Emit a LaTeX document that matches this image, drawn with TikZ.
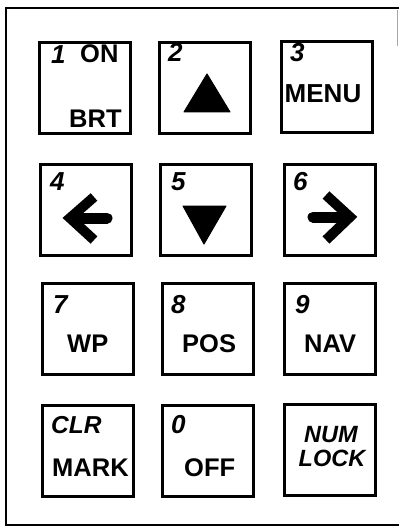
\documentclass[tikz,border=0pt]{standalone}
\usepackage{fontspec}
\setmainfont{Liberation Sans}
\begin{document}
\begin{tikzpicture}[x=1pt,y=-1pt,
  key/.style={draw,line width=3.6pt,minimum width=91pt,minimum height=91pt,inner sep=0pt},
  lbl/.style={anchor=base west,inner sep=0pt,font=\fontsize{25.5}{25.5}\selectfont\bfseries},
  lblc/.style={anchor=base,inner sep=0pt,font=\fontsize{26}{26}\selectfont\bfseries},
  num/.style={anchor=base west,inner sep=0pt,font=\fontsize{26}{26}\selectfont\bfseries\itshape},
  numw/.style={anchor=base west,inner sep=0pt,font=\fontsize{24.5}{24.5}\selectfont\bfseries\itshape},
  numlock/.style={anchor=base,inner sep=0pt,font=\fontsize{23.5}{23.5}\selectfont\bfseries\itshape},
  glyph/.style={fill=black,draw=black,line width=1pt,line join=round},
  arrowhead/.style={draw=black,line width=10pt,line join=miter},
  arrowshaft/.style={draw=black,line width=11pt,line cap=round}]
\useasboundingbox (0,0) rectangle (399,529);
% outer frame
\coordinate (tr) at (399,8);
\coordinate (tl) at (6,8);
\coordinate (bl) at (6,525);
\coordinate (br) at (399,525);
\draw[line width=2pt] (tr) -- (tl) -- (bl) -- (br);
\coordinate (rs) at (397.5,10);
\coordinate (re) at (397.5,46);
\draw[line width=1pt,black!35] (rs) -- (re);
% keys
\node[key] (k1) at (85,88) {};
\node[key] (k2) at (205,88) {};
\node[key] (k3) at (327,87) {};
\node[key] (k4) at (86,210) {};
\node[key] (k5) at (206,210) {};
\node[key] (k6) at (330,210) {};
\node[key] (k7) at (88,329) {};
\node[key] (k8) at (208,329) {};
\node[key] (k9) at (330,329) {};
\node[key] (kc) at (88,451) {};
\node[key] (k0) at (208,451) {};
\node[key] (kn) at (330,450) {};
% row 1
\node[num] (t1) at (51,64) {1};
\node[lbl] (ton) at (80,63) {ON};
\node[lbl] (tbrt) at (69,128) {BRT};
\node[num] (t2) at (168,62) {2};
\coordinate (u1) at (207,74);
\coordinate (u2) at (184,112);
\coordinate (u3) at (230,112);
\fill[glyph] (u1) -- (u2) -- (u3) -- cycle;
\node[num] (t3) at (290,62) {3};
\node[lblc] (tmenu) at (323,103) {MENU};
% row 2
\node[num] (t4) at (50,191) {4};
\coordinate (la) at (94,197);
\coordinate (lv) at (70,218);
\coordinate (lb) at (94,240);
\coordinate (ls) at (76,218);
\coordinate (le) at (107,218);
\draw[arrowshaft] (ls) -- (le);
\draw[arrowhead] (la) -- (lv) -- (lb);
\node[num] (t5) at (171,190) {5};
\coordinate (d1) at (183,206);
\coordinate (d2) at (226,206);
\coordinate (d3) at (204,244);
\fill[glyph] (d1) -- (d2) -- (d3) -- cycle;
\node[num] (t6) at (293,190) {6};
\coordinate (ra) at (326,195);
\coordinate (rv) at (350,217);
\coordinate (rb) at (326,240);
\coordinate (rsh) at (313,217);
\coordinate (reh) at (344,217);
\draw[arrowshaft] (rsh) -- (reh);
\draw[arrowhead] (ra) -- (rv) -- (rb);
% row 3
\node[num] (t7) at (53,313) {7};
\node[lbl] (twp) at (67,352) {WP};
\node[num] (t8) at (171,313) {8};
\node[lbl] (tpos) at (182,352) {POS};
\node[num] (t9) at (295,313) {9};
\node[lbl] (tnav) at (304,352) {NAV};
% row 4
\node[numw] (tclr) at (51,433) {CLR};
\node[lbl] (tmark) at (52,476) {MARK};
\node[num] (t0) at (171,433) {0};
\node[lbl] (toff) at (184,476) {OFF};
\node[numlock] (tnum) at (331,442) {NUM};
\node[numlock] (tlock) at (332,466) {LOCK};
\end{tikzpicture}
\end{document}
